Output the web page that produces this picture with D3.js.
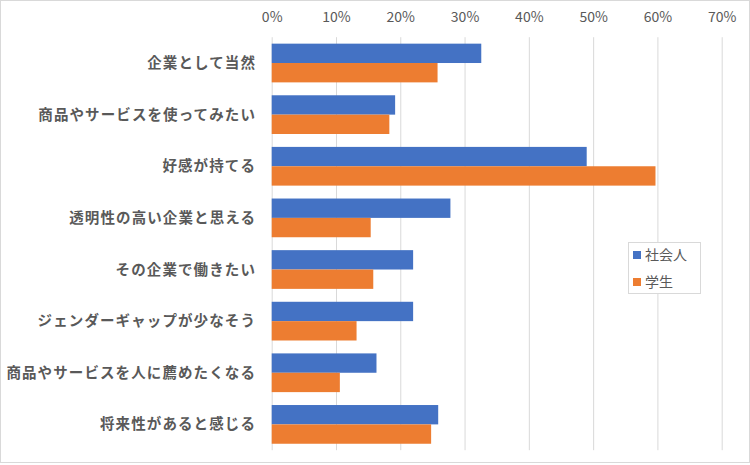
<!DOCTYPE html>
<html><head><meta charset="utf-8">
<script src="https://cdn.jsdelivr.net/npm/d3@7"></script>
<style>body{margin:0;background:#fff}svg{display:block}</style>
</head><body>
<script>
const categories = ["企業として当然","商品やサービスを使ってみたい","好感が持てる","透明性の高い企業と思える","その企業で働きたい","ジェンダーギャップが少なそう","商品やサービスを人に薦めたくなる","将来性があると感じる"];
const seriesNames = ["社会人","学生"];
const shakaijin = [0.326,0.192,0.490,0.278,0.220,0.220,0.163,0.259];
const gakusei = [0.258,0.183,0.597,0.154,0.158,0.132,0.106,0.248];
const tickValues = [0,0.1,0.2,0.3,0.4,0.5,0.6,0.7];
const colors = ["#4472C4","#ED7D31"];

const W=750,H=465;
const svg=d3.select("body").append("svg").attr("width",W).attr("height",H);
svg.append("rect").attr("x",0.5).attr("y",0.5).attr("width",W-1).attr("height",H-3).attr("fill","#fff").attr("stroke","#d9d9d9");

const x=d3.scaleLinear().domain([0,0.7]).range([271.7,721.7]);
const y=d3.scaleBand().domain(categories).range([37.2,450.2]).paddingInner(0.25).paddingOuter(0.125);
const sub=d3.scaleBand().domain(seriesNames).range([0,y.bandwidth()]);

const font="'Noto Sans CJK JP','Noto Sans',sans-serif";
const xAxis=d3.axisTop(x).tickValues(tickValues).tickFormat(d3.format(".0%")).tickSize(-(450.2-37.2)).tickPadding(0);
const gx=svg.append("g").attr("transform","translate(0,37.2)").call(xAxis);
gx.select(".domain").remove();
gx.selectAll(".tick line").attr("stroke","#d9d9d9").attr("stroke-width",1);
gx.selectAll(".tick text").attr("y",-20).attr("dy","0.35em").attr("fill","#595959").style("font-family",font).style("font-size","14px");

const data=[shakaijin,gakusei];
const g=svg.append("g");
seriesNames.forEach((s,si)=>{
  g.selectAll(".b"+si).data(categories).enter().append("rect")
   .attr("x",x(0)).attr("y",(c)=>y(c)+sub(s))
   .attr("width",(c,i)=>x(data[si][i])-x(0)).attr("height",sub.bandwidth())
   .attr("fill",colors[si]);
});

svg.append("g").selectAll("text").data(categories).enter().append("text")
 .attr("x",256).attr("y",c=>y(c)+y.bandwidth()/2).attr("dy","0.35em").attr("text-anchor","end")
 .attr("fill","#595959").style("font-family",font).style("font-size","14.5px").style("font-weight","bold").style("letter-spacing","1.1px")
 .text(d=>d);

// legend
const lg=svg.append("g");
lg.append("rect").attr("x",628.5).attr("y",242.5).attr("width",72).attr("height",51).attr("fill","#fff").attr("stroke","#d9d9d9");
seriesNames.forEach((s,i)=>{
  const yy=255+i*27;
  lg.append("rect").attr("x",633).attr("y",yy-4).attr("width",8).attr("height",8).attr("fill",colors[i]);
  lg.append("text").attr("x",645).attr("y",yy).attr("dy","0.35em").attr("fill","#595959").style("font-family",font).style("font-size","14px").text(s);
});
</script>
</body></html>
